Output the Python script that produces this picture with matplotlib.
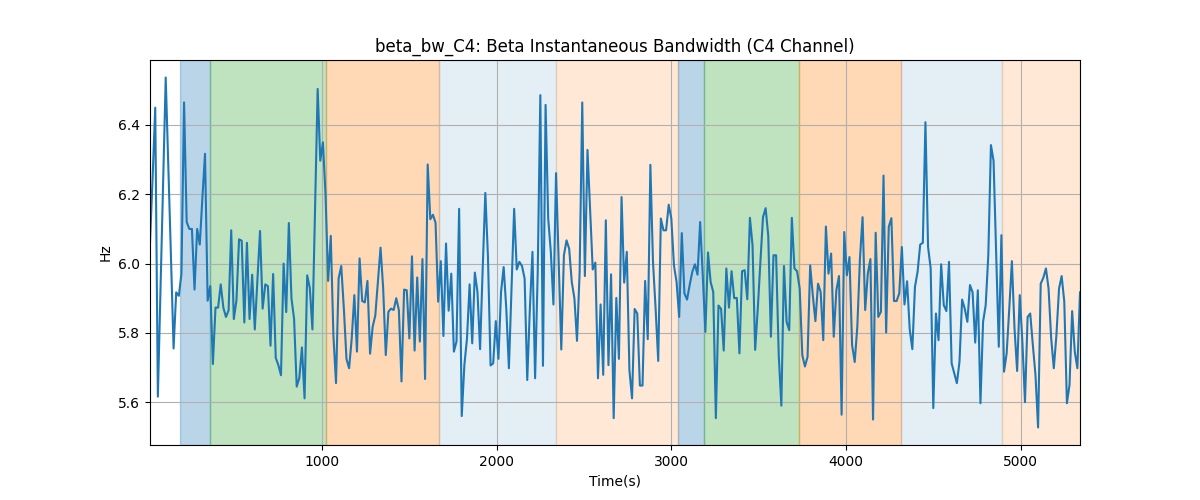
import numpy as np
import matplotlib
matplotlib.use("Agg")
import matplotlib.pyplot as plt

# sample spacing of the bandwidth trace (seconds)
t_start = 15
t_step = 15

beta_bw = [
    6.06, 6.25, 6.45, 5.616, 5.92, 6.23, 6.537, 6.28, 6.02, 5.755,
    5.917, 5.907, 5.97, 6.465, 6.12, 6.10, 6.10, 5.925, 6.10, 6.055,
    6.19, 6.317, 5.893, 5.935, 5.71, 5.873, 5.873, 5.94, 5.873, 5.846,
    5.865, 6.096, 5.84, 5.894, 6.07, 6.066, 5.83, 6.06, 5.84, 5.968,
    5.81, 5.95, 6.094, 5.87, 5.94, 5.935, 5.763, 5.97, 5.728, 5.707,
    5.678, 6.0, 5.86, 6.117, 5.90, 5.84, 5.645, 5.67, 5.758, 5.611,
    5.966, 5.93, 5.81, 6.16, 6.504, 6.297, 6.35, 6.2, 5.95, 6.08,
    5.794, 5.655, 5.957, 5.993, 5.87, 5.725, 5.698, 5.784, 5.909, 5.746,
    6.015, 5.892, 5.888, 5.95, 5.74, 5.818, 5.85, 5.947, 6.046, 5.93,
    5.736, 5.861, 5.87, 5.866, 5.9, 5.866, 5.66, 5.925, 5.923, 5.784,
    6.021, 5.749, 5.96, 5.775, 6.013, 5.667, 6.286, 6.128, 6.141, 6.118,
    5.89, 6.007, 5.791, 6.058, 5.864, 5.971, 5.746, 5.775, 6.158, 5.56,
    5.707, 5.784, 5.94, 5.77, 5.974, 5.918, 5.753, 5.986, 6.204, 6.02,
    5.706, 5.712, 5.834, 5.725, 5.918, 5.99, 5.87, 5.698, 5.93, 6.158,
    5.983, 6.005, 5.993, 5.957, 5.664, 5.87, 6.034, 5.669, 5.976, 6.486,
    5.705, 6.458, 6.13, 6.034, 5.882, 6.261, 6.005, 5.752, 6.024, 6.067,
    6.043, 5.947, 5.9, 5.777, 5.976, 6.465, 5.964, 6.328, 6.158, 5.983,
    6.003, 5.669, 5.882, 5.679, 6.125, 5.707, 5.969, 5.554, 5.901, 5.725,
    6.192, 5.945, 6.034, 5.693, 5.611, 5.869, 5.856, 5.648, 5.648, 5.95,
    5.782, 6.285, 6.005, 5.87, 5.719, 6.13, 6.096, 6.096, 6.17, 6.13,
    5.995, 5.947, 5.846, 6.088, 5.914, 5.896, 5.938, 5.976, 5.998, 5.968,
    6.12, 5.966, 5.803, 6.032, 5.947, 5.918, 5.554, 5.879, 5.869, 5.749,
    5.986, 5.873, 5.978, 5.9, 5.901, 5.741, 5.978, 5.981, 5.897, 6.132,
    6.053, 5.751, 5.87, 6.005, 6.134, 6.16, 6.08, 5.789, 6.024, 6.024,
    5.736, 5.59, 5.993, 5.832, 5.808, 6.132, 5.986, 5.978, 5.928, 5.736,
    5.703, 5.731, 5.995, 5.909, 5.834, 5.942, 5.918, 5.779, 6.107, 5.971,
    6.029, 5.789, 5.923, 5.964, 5.564, 6.091, 5.966, 6.019, 5.765, 5.716,
    5.818, 6.014, 6.134, 5.866, 5.971, 6.013, 5.55, 6.089, 5.846, 5.861,
    6.254, 5.801, 6.106, 6.131, 5.892, 5.892, 5.914, 6.048, 5.882, 5.949,
    5.81, 5.753, 5.933, 5.976, 6.055, 6.06, 6.408, 6.048, 5.986, 5.583,
    5.856, 5.779, 5.998, 5.88, 5.863, 6.005, 5.712, 5.683, 5.655, 5.717,
    5.896, 5.87, 5.832, 5.938, 5.917, 5.772, 5.923, 5.597, 5.832, 5.88,
    6.024, 6.342, 6.297, 6.024, 5.76, 6.082, 5.688, 5.741, 5.87, 6.007,
    5.813, 5.69, 5.909, 5.775, 5.6, 5.846, 5.856, 5.765, 5.679, 5.527,
    5.942, 5.959, 5.986, 5.928, 5.784, 5.698, 5.794, 5.928, 5.964, 5.89,
    5.597, 5.65, 5.863, 5.746, 5.698, 5.917,
]

# shaded segments: start, end, colour, alpha
seg_starts = [187, 360, 1023, 1668, 2340, 3040, 3189, 3733, 4313, 4893]
seg_ends = [360, 1023, 1668, 2340, 3040, 3189, 3733, 4313, 4893, 5340]
seg_colors = ["tab:blue", "tab:green", "tab:orange", "tab:blue", "tab:orange",
              "tab:blue", "tab:green", "tab:orange", "tab:blue", "tab:orange"]
seg_alphas = [0.3, 0.3, 0.3, 0.12, 0.17, 0.3, 0.3, 0.3, 0.12, 0.17]

t = t_start + t_step * np.arange(len(beta_bw))

fig, ax = plt.subplots(figsize=(12, 5), dpi=100)
for s, e, c, a in zip(seg_starts, seg_ends, seg_colors, seg_alphas):
    ax.axvspan(s, e, color=c, alpha=a)

ax.plot(t, beta_bw, color="tab:blue", linewidth=1.5)
ax.set_xlim(t[0], t[-1])
ax.grid(True)
ax.set_title("beta_bw_C4: Beta Instantaneous Bandwidth (C4 Channel)")
ax.set_xlabel("Time(s)")
ax.set_ylabel("Hz")

fig.savefig("out.png")
